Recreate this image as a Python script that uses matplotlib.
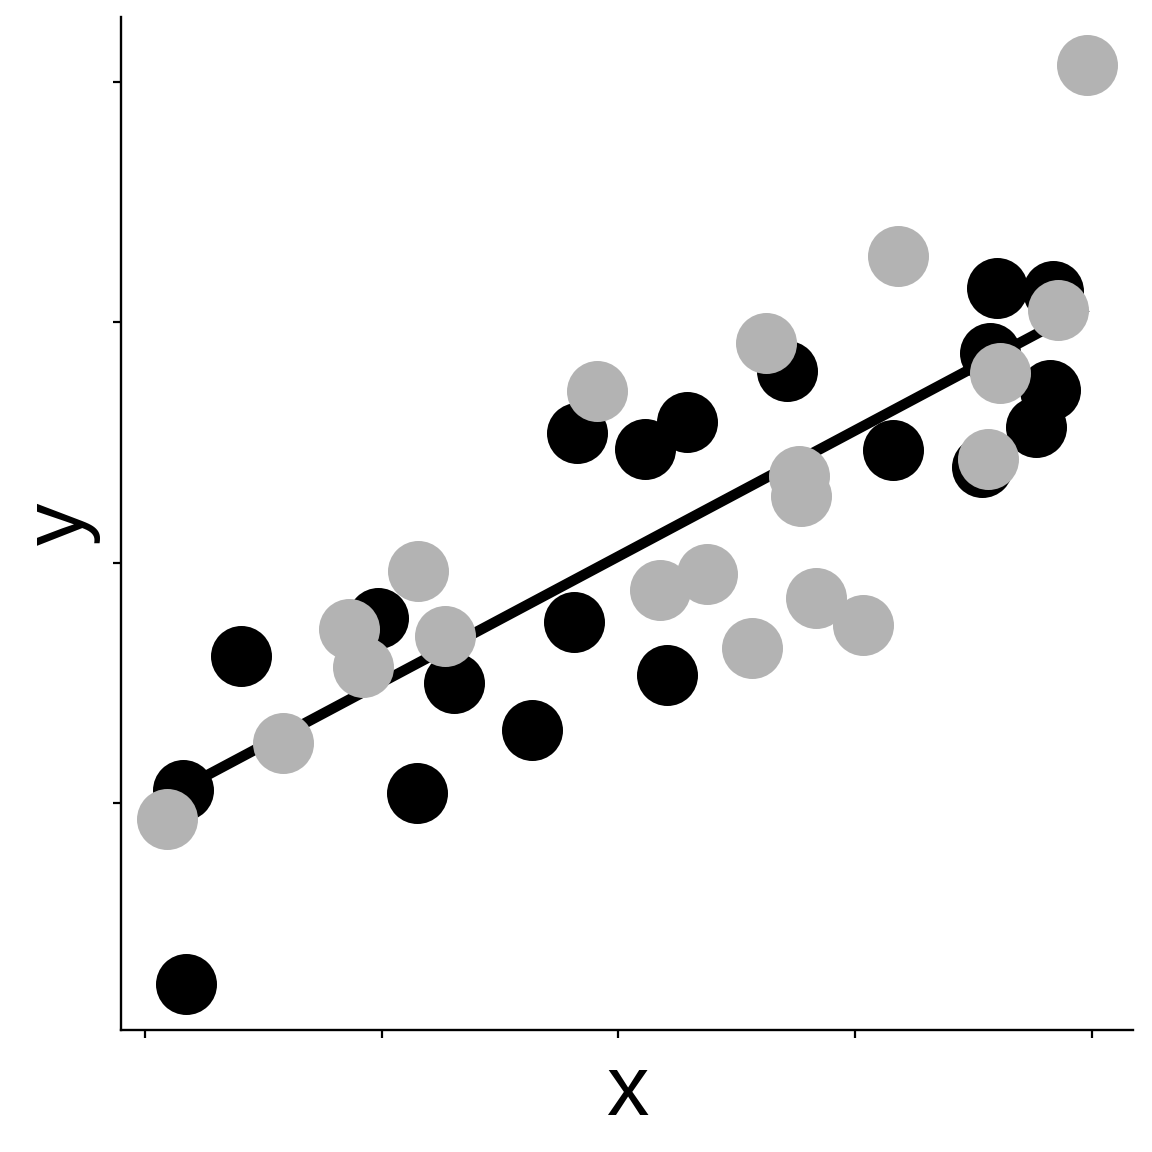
import matplotlib
matplotlib.use("Agg")
import matplotlib.pyplot as plt

# black group
x_black = [0.161, 0.173, 0.405, 0.984, 1.149, 1.305, 1.635, 1.812, 1.825, 2.112,
           2.289, 2.205, 2.712, 3.159, 3.535, 3.569, 3.599, 3.835, 3.823, 3.763]
y_black = [0.054, -0.753, 0.612, 0.770, 0.042, 0.499, 0.304, 0.753, 1.540, 1.473,
           1.586, 0.533, 1.798, 1.469, 1.398, 1.873, 2.143, 2.131, 1.719, 1.565]

# grey group
x_grey = [0.093, 0.583, 0.862, 0.921, 1.153, 1.267, 1.909, 2.175, 2.374, 2.564,
          2.623, 2.762, 2.771, 2.834, 3.033, 3.181, 3.561, 3.611, 3.856, 3.979]
y_grey = [-0.067, 0.250, 0.724, 0.566, 0.965, 0.695, 1.715, 0.886, 0.953, 0.645,
          1.914, 1.361, 1.278, 0.853, 0.741, 2.276, 1.432, 1.789, 2.052, 3.071]

# fitted line
line_x = [0.161, 3.979]
line_y = [0.062, 2.064]

x_ticks = [0, 1, 2, 3, 4]
y_ticks = [0, 1, 2, 3]

plt.rcParams['font.family'] = ['Liberation Sans', 'DejaVu Sans']

fig = plt.figure(figsize=(11.52, 11.52), dpi=100)
ax = fig.add_axes([121 / 1152, 1 - 1030 / 1152, (1133 - 121) / 1152, (1030 - 17) / 1152])

ax.scatter(x_black, y_black, s=1930, color='black', linewidths=0, zorder=2)
ax.plot(line_x, line_y, color='black', linewidth=7.5, solid_capstyle='butt', zorder=3)
ax.scatter(x_grey, y_grey, s=1930, color='#B3B3B3', linewidths=0, zorder=4)

ax.set_xlim(-0.101, 4.173)
ax.set_ylim(-0.945, 3.271)
ax.set_xticks(x_ticks)
ax.set_yticks(y_ticks)
ax.set_xticklabels([])
ax.set_yticklabels([])
ax.tick_params(length=5.5, width=1.6, color='black', direction='out')

for side in ['top', 'right']:
    ax.spines[side].set_visible(False)
for side in ['left', 'bottom']:
    ax.spines[side].set_linewidth(1.7)

fig.text(627 / 1152, 1 - 1115 / 1152, 'x', fontsize=61, ha='center', va='baseline')
fig.text(61 / 1152, 1 - 524 / 1152, 'y', fontsize=61, ha='center', va='center', rotation=90)

fig.savefig("out.png", dpi=100)
plt.close(fig)
